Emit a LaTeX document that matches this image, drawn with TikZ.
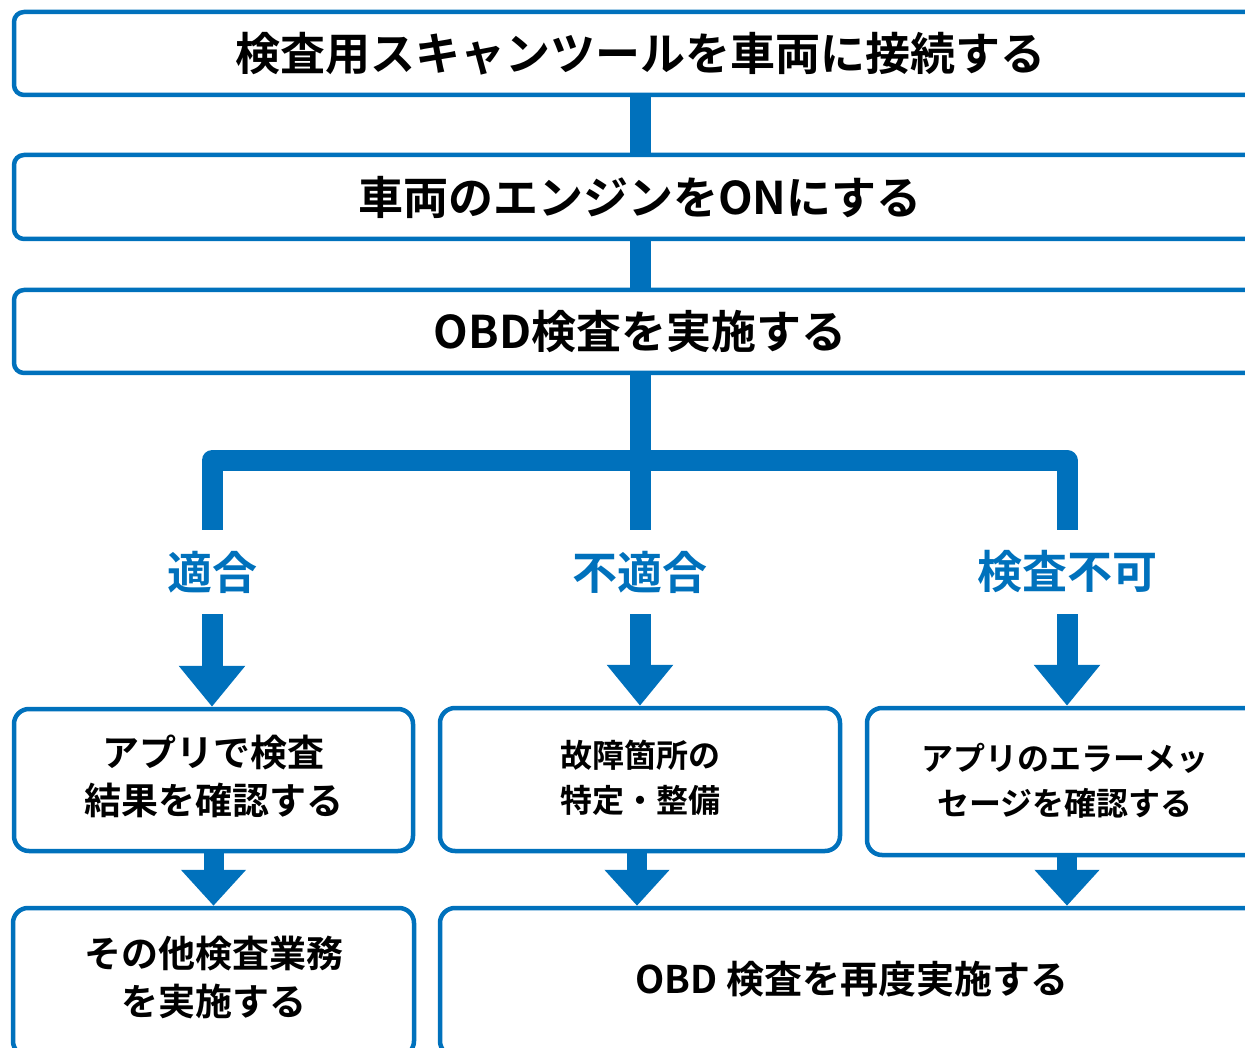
\documentclass[tikz,border=0pt]{standalone}
\usepackage{fontspec}
\setmainfont{Noto Sans CJK JP}[BoldFont={Noto Sans CJK JP Bold}]
\usetikzlibrary{arrows.meta}
\definecolor{obdblue}{RGB}{0,113,188}
\newcommand\liftedtext[2]{\raisebox{#1}[\height][\depth]{\begin{tabular}{@{}c@{}}#2\end{tabular}}}
\begin{document}
\begin{tikzpicture}[x=1pt,y=-1pt,
  box/.style={draw=obdblue, line width=4.5pt, rounded corners=10pt, fill=white, inner sep=0pt, align=center, font=\bfseries\fontsize{45}{54}\selectfont},
  sbox/.style={draw=obdblue, line width=4.5pt, rounded corners=15pt, fill=white, inner sep=0pt},
  lab/.style={text=obdblue, inner sep=0pt, minimum height=84pt, font=\bfseries\fontsize{45}{54}\selectfont},
  conn/.style={draw=obdblue, line width=21pt},
  bigarrow/.style={draw=obdblue, line width=21pt, -{Triangle[width=64pt,length=41pt]}},
  smallarrow/.style={draw=obdblue, line width=20pt, -{Triangle[width=63pt,length=36pt]}}]
\useasboundingbox (0,0) rectangle (1245,1048);
\clip (0,0) rectangle (1245,1048);
% top boxes
\node[box, minimum width=1252pt, minimum height=83pt] (n1) at (640,53.5) {検査用スキャンツールを車両に接続する};
\node[box, minimum width=1252pt, minimum height=84pt] (n2) at (640,197) {車両のエンジンをONにする};
\node[box, minimum width=1252pt, minimum height=83pt] (n3) at (640,331.5) {OBD検査を実施する};
\draw[conn] (n1.south) -- (n2.north);
\draw[conn] (n2.south) -- (n3.north);
% labels
\node[lab] (l1) at (212,572) {適合};
\node[lab] (l2) at (640,572) {不適合};
\node[lab] (l3) at (1067,572) {検査不可};
\coordinate (bar) at (640,460.5);
\draw[conn] (n3.south) -- (l2.north);
\draw[conn, line join=round] (l1.north) -- (l1.north |- bar) -- (l3.north |- bar) -- (l3.north);
% middle boxes
\node[sbox, minimum width=399pt, minimum height=142pt, font=\bfseries\fontsize{37}{48}\selectfont] (a1) at (213.5,780) {\liftedtext{-1pt}{アプリで検査\\結果を確認する}};
\node[sbox, minimum width=400pt, minimum height=143pt, font=\bfseries\fontsize{32}{45}\selectfont] (b1) at (640,779.5) {\liftedtext{-1pt}{故障箇所の\\特定・整備}};
\node[sbox, minimum width=396pt, minimum height=147pt, font=\bfseries\fontsize{32}{45}\selectfont] (c1) at (1065,781.5) {\liftedtext{-2pt}{アプリのエラーメッ\\セージを確認する}};
\draw[bigarrow] (l1.south) -- (a1.north -| l1);
\draw[bigarrow] (l2.south) -- (b1.north -| l2);
\draw[bigarrow] (l3.south) -- (c1.north -| l3);
% bottom boxes
\node[sbox, minimum width=401pt, minimum height=148pt, font=\bfseries\fontsize{37}{48}\selectfont] (d1) at (213.5,982) {\liftedtext{0pt}{その他検査業務\\を実施する}};
\node[sbox, minimum width=824pt, minimum height=148pt, font=\bfseries\fontsize{38}{48}\selectfont] (e1) at (852,982) {\liftedtext{-2pt}{OBD 検査を再度実施する}};
\draw[smallarrow] (a1.south -| d1) -- (d1.north);
\draw[smallarrow] ([xshift=-3pt]b1.south) -- ([xshift=-3pt]b1.south |- e1.north);
\draw[smallarrow] (c1.south -| l3) -- (e1.north -| l3);
\end{tikzpicture}
\end{document}
